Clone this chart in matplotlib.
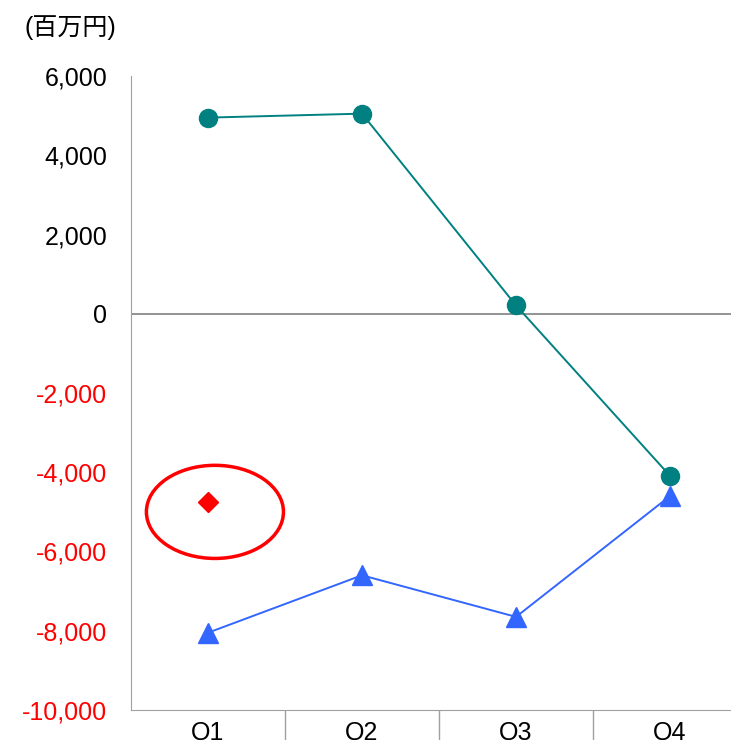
import matplotlib
matplotlib.use('Agg')
import matplotlib.pyplot as plt
from matplotlib.patches import Ellipse
from matplotlib.ticker import FuncFormatter

plt.rcParams['font.family'] = ['Liberation Sans', 'Noto Sans CJK JP', 'DejaVu Sans']

quarters = ['Q1', 'Q2', 'Q3', 'Q4']
series_teal = [4950, 5050, 210, -4090]
series_blue = [-8050, -6600, -7650, -4600]
marked_q1 = -4750
y_ticks = [-10000, -8000, -6000, -4000, -2000, 0, 2000, 4000, 6000]
unit_label = '(百万円)'

fig = plt.figure(figsize=(7.31, 7.40), dpi=100)
# axes run a little past the right and bottom edges like in the source
ax = fig.add_axes([131 / 731, 30 / 740, 616 / 731, 634 / 740])

x = list(range(len(quarters)))
ax.plot(x, series_teal, color='#008080', lw=1.4, marker='o', ms=13, zorder=3)
ax.plot(x, series_blue, color='#3366FF', lw=1.4, marker='^', ms=14, zorder=3)
ax.plot([0], [marked_q1], color='#FF0000', marker='D', ms=10, ls='none', zorder=3)
ax.add_patch(Ellipse((0.045, -5000), 0.89, 2350, fill=False, ec='#FF0000', lw=2.5, zorder=2))

ax.axhline(0, color='#808080', lw=1.2, zorder=1)

ax.set_xlim(-0.5, len(quarters) - 0.5)
ax.set_ylim(-10000, 6000)
ax.set_yticks(y_ticks)
ax.yaxis.set_major_formatter(FuncFormatter(lambda v, p: f'{int(v):,}'))
ax.tick_params(axis='y', length=0, pad=17, labelsize=18)
for lbl, v in zip(ax.get_yticklabels(), y_ticks):
    lbl.set_color('#FF0000' if v < 0 else 'black')

ax.set_xticks(x)
ax.set_xticklabels(quarters)
ax.set_xticks([i + 0.5 for i in x[:-1]], minor=True)
ax.tick_params(axis='x', which='major', length=0, pad=8, labelsize=18)
ax.tick_params(axis='x', which='minor', length=25, color='#A0A0A0', width=1)

for side in ['top', 'right']:
    ax.spines[side].set_visible(False)
ax.spines['left'].set_color('#A0A0A0')
ax.spines['bottom'].set_color('#A0A0A0')

fig.text(25 / 731, 1 - 28 / 740, unit_label, fontsize=18, va='center', ha='left')

fig.savefig('out.png', dpi=100)
